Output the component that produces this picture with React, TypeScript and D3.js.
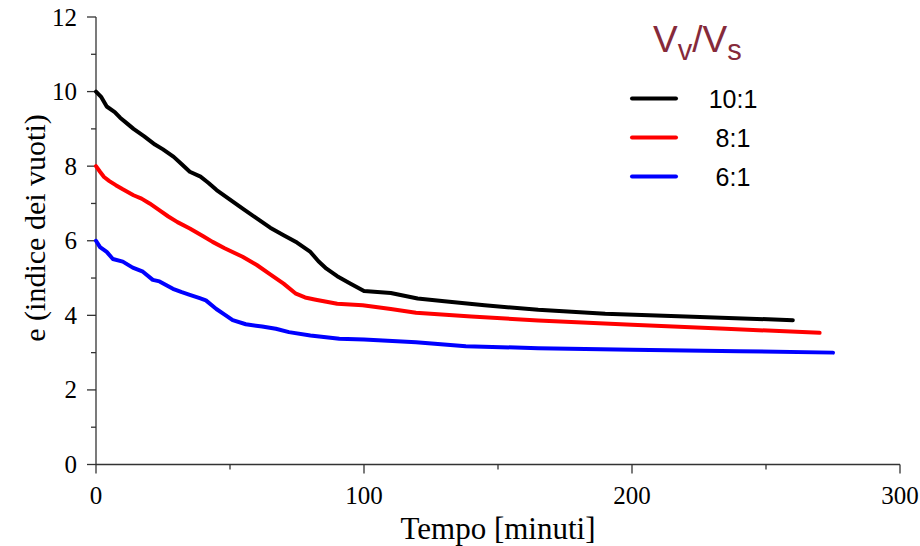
import React, { useEffect, useRef } from "react";
import * as d3 from "d3";

// Tempo [minuti] and void index e for each Vv/Vs ratio
const time10 = [0, 2, 4, 7, 9, 12, 14, 18, 22, 25, 29, 32, 35, 39, 42, 45, 50, 55, 60, 65, 70, 75, 80, 83, 86, 90, 95, 100, 110, 120, 130, 145, 165, 190, 220, 260];
const e10 = [10.0, 9.85, 9.6, 9.45, 9.3, 9.12, 9.0, 8.8, 8.58, 8.45, 8.25, 8.05, 7.85, 7.72, 7.55, 7.36, 7.1, 6.85, 6.6, 6.35, 6.15, 5.95, 5.7, 5.45, 5.25, 5.05, 4.85, 4.65, 4.6, 4.45, 4.38, 4.27, 4.15, 4.04, 3.97, 3.87];

const time8 = [0, 1.5, 3, 5, 7.4, 10, 14, 17, 20, 24, 27, 30.4, 35, 40, 43.5, 48, 54.7, 60, 64.6, 70, 74.6, 78, 82, 90, 99.5, 110, 119.4, 140, 165, 200, 235, 270];
const e8 = [8.0, 7.85, 7.71, 7.6, 7.49, 7.38, 7.22, 7.13, 7.0, 6.8, 6.65, 6.5, 6.33, 6.12, 5.97, 5.8, 5.57, 5.35, 5.12, 4.85, 4.58, 4.48, 4.42, 4.31, 4.27, 4.17, 4.07, 3.97, 3.86, 3.75, 3.64, 3.53];

const time6 = [0, 1.5, 4, 6.3, 10, 13.7, 17.5, 21.2, 23.7, 28.7, 32, 35, 38.7, 41, 44.9, 48, 51, 55.9, 62, 67.1, 72, 80, 90.8, 100, 119.4, 138, 165, 200, 240, 275];
const e6 = [6.0, 5.83, 5.7, 5.51, 5.44, 5.28, 5.17, 4.95, 4.91, 4.71, 4.62, 4.55, 4.46, 4.4, 4.17, 4.02, 3.87, 3.76, 3.7, 3.64, 3.55, 3.46, 3.37, 3.35, 3.28, 3.17, 3.12, 3.08, 3.04, 3.0];

const seriesLabels = ["10:1", "8:1", "6:1"];
const seriesColors = ["#000000", "#ff0000", "#0000ff"];

const xTicks = [0, 100, 200, 300];
const xMinorTicks = [50, 150, 250];
const yTicks = [0, 2, 4, 6, 8, 10, 12];
const yMinorTicks = [1, 3, 5, 7, 9, 11];

const W = 920, H = 546;

export default function App() {
  const ref = useRef<SVGSVGElement>(null);

  useEffect(() => {
    const svg = d3.select(ref.current);
    svg.selectAll("*").remove();

    const x = d3.scaleLinear().domain([0, 300]).range([96, 900]);
    const y = d3.scaleLinear().domain([0, 12]).range([464.5, 17]);

    const serif = "Liberation Serif";
    const sans = "Liberation Sans";
    const axisColor = "#333";

    const series = [
      time10.map((t, i) => [t, e10[i]]),
      time8.map((t, i) => [t, e8[i]]),
      time6.map((t, i) => [t, e6[i]]),
    ];

    // axes lines
    const g = svg.append("g");
    g.append("line").attr("x1", x(0)).attr("x2", x(0)).attr("y1", y(12)).attr("y2", y(0))
      .attr("stroke", axisColor).attr("stroke-width", 1.3);
    g.append("line").attr("x1", x(0)).attr("x2", x(300)).attr("y1", y(0)).attr("y2", y(0))
      .attr("stroke", axisColor).attr("stroke-width", 1.3);

    // y ticks
    g.selectAll(".ytick").data(yTicks).join("line").attr("class", "ytick")
      .attr("x1", x(0) - 9).attr("x2", x(0)).attr("y1", d => y(d)).attr("y2", d => y(d))
      .attr("stroke", axisColor).attr("stroke-width", 1.3);
    g.selectAll(".yminor").data(yMinorTicks).join("line").attr("class", "yminor")
      .attr("x1", x(0) - 5).attr("x2", x(0)).attr("y1", d => y(d)).attr("y2", d => y(d))
      .attr("stroke", axisColor).attr("stroke-width", 1.3);
    g.selectAll(".ylab").data(yTicks).join("text").attr("class", "ylab")
      .attr("x", 77).attr("y", d => y(d)).attr("dy", "0.34em")
      .attr("text-anchor", "end").style("font-family", serif).attr("font-size", 25)
      .text(d => d);

    // x ticks
    g.selectAll(".xtick").data(xTicks).join("line").attr("class", "xtick")
      .attr("x1", d => x(d)).attr("x2", d => x(d)).attr("y1", y(0)).attr("y2", y(0) + 9)
      .attr("stroke", axisColor).attr("stroke-width", 1.3);
    g.selectAll(".xminor").data(xMinorTicks).join("line").attr("class", "xminor")
      .attr("x1", d => x(d)).attr("x2", d => x(d)).attr("y1", y(0)).attr("y2", y(0) + 5)
      .attr("stroke", axisColor).attr("stroke-width", 1.3);
    g.selectAll(".xlab").data(xTicks).join("text").attr("class", "xlab")
      .attr("x", d => x(d)).attr("y", 504)
      .attr("text-anchor", "middle").style("font-family", serif).attr("font-size", 25)
      .text(d => d);

    // axis titles
    svg.append("text").attr("x", 498).attr("y", 539).attr("text-anchor", "middle")
      .style("font-family", serif).attr("font-size", 31).text("Tempo [minuti]");
    svg.append("text").attr("transform", `translate(45, 228) rotate(-90)`)
      .attr("text-anchor", "middle").style("font-family", serif).attr("font-size", 30)
      .text("e (indice dei vuoti)");

    // curves
    const line = d3.line<number[]>().x(d => x(d[0])).y(d => y(d[1]));
    svg.selectAll(".curve").data(series).join("path").attr("class", "curve")
      .attr("d", d => line(d))
      .attr("fill", "none")
      .attr("stroke", (d, i) => seriesColors[i])
      .attr("stroke-width", 4)
      .attr("stroke-linejoin", "round")
      .attr("stroke-linecap", "round");

    // legend
    const title = svg.append("text").attr("x", 653).attr("y", 52)
      .style("font-family", sans).attr("font-size", 37).attr("fill", "#862a3a");
    title.append("tspan").text("V");
    title.append("tspan").attr("font-size", 29).attr("dy", 8).text("v");
    title.append("tspan").attr("dy", -8).text("/V");
    title.append("tspan").attr("font-size", 29).attr("dy", 8).text("s");

    const legend = svg.selectAll(".leg").data(seriesLabels).join("g").attr("class", "leg")
      .attr("transform", (d, i) => `translate(0, ${98.5 + i * 39})`);
    legend.append("line").attr("x1", 632).attr("x2", 676).attr("y1", 0).attr("y2", 0)
      .attr("stroke", (d, i) => seriesColors[i]).attr("stroke-width", 4)
      .attr("stroke-linecap", "round");
    legend.append("text").attr("x", 733).attr("y", 0).attr("dy", "0.36em")
      .attr("text-anchor", "middle").style("font-family", sans).attr("font-size", 25)
      .text(d => d);
  }, []);

  return (
    <svg ref={ref} width={W} height={H}
      style={{ position: "absolute", left: 0, top: 0, background: "#fff" }} />
  );
}
